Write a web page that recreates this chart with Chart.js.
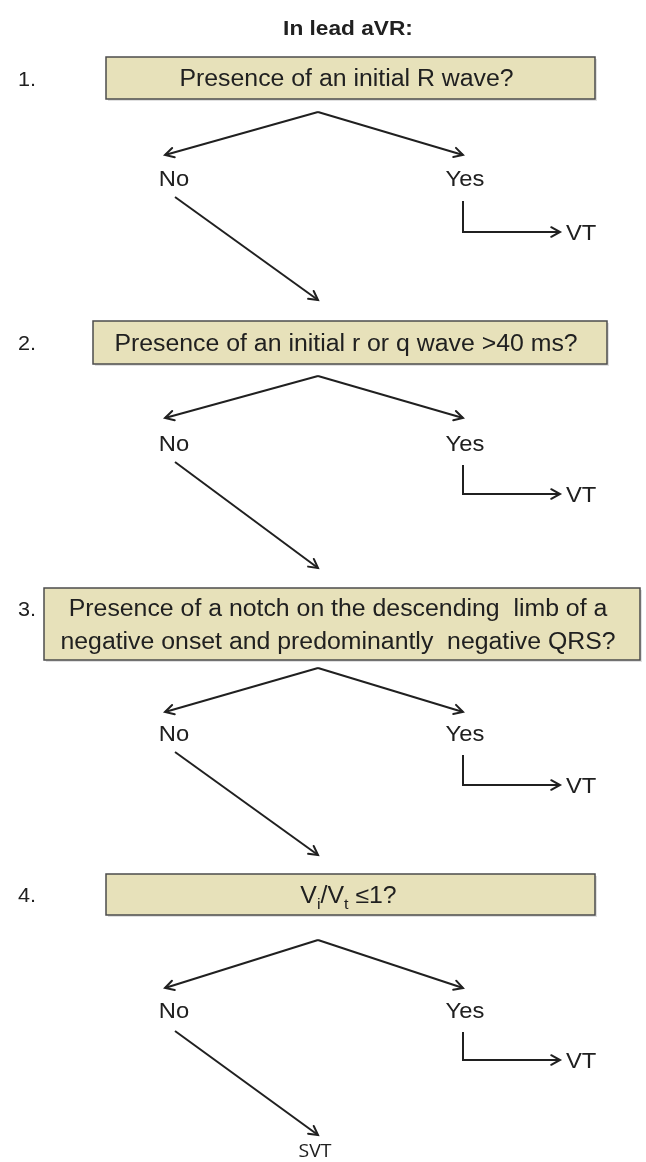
<!DOCTYPE html>
<html>
<head>
<meta charset="utf-8">
<script src="https://cdn.jsdelivr.net/npm/chart.js@4"></script>
<style>
  body { margin: 0; background: #fff; }
  canvas { display: block; }
</style>
</head>
<body>
<canvas id="flow" width="646" height="1162"></canvas>
<script>
// flowchart content
const title = 'In lead aVR:';
const stepLabels = ['1.', '2.', '3.', '4.'];
const questions = [
  ['Presence of an initial R wave?'],
  ['Presence of an initial r or q wave >40 ms?'],
  ['Presence of a notch on the descending  limb of a', 'negative onset and predominantly  negative QRS?'],
  null // step 4 has subscripts, drawn below
];
const noLabel = 'No';
const yesLabel = 'Yes';
const yesOutcome = 'VT';
const finalOutcome = 'SVT';

// node geometry in chart units (x 0..646, y 0..1162)
const boxLeft = [106, 93, 44, 106];
const boxRight = [595, 607, 640, 595];
const boxTop = [57, 321, 588, 874];
const boxBottom = [99, 364, 660, 915];
const apexY = [112, 376, 668, 940];
const branchTipY = [155, 418, 712, 988];
const answerY = [178, 443, 733, 1010];
const diagTopY = [197, 462, 752, 1031];
const diagEndY = [300, 568, 855, 1135];
const elbowTopY = [201, 465, 755, 1032];
const vtY = [232, 494, 785, 1060];
const apexX = 318, noX = 165, yesX = 463, diagStartX = 175, diagEndX = 318, vtArrowX = 560;

const ink = '#202020';
const stretch = 1.08; // the source lettering is a little wide

function line(points) {
  return {
    data: points.map(p => ({ x: p[0], y: p[1] })),
    showLine: true,
    borderColor: ink,
    borderWidth: 2,
    pointRadius: 0,
    fill: false,
    tension: 0
  };
}

const datasets = [];
for (let i = 0; i < 4; i++) {
  datasets.push(line([[apexX, apexY[i]], [noX, branchTipY[i]]]));
  datasets.push(line([[apexX, apexY[i]], [yesX, branchTipY[i]]]));
  datasets.push(line([[diagStartX, diagTopY[i]], [diagEndX, diagEndY[i]]]));
  datasets.push(line([[yesX, elbowTopY[i]], [yesX, vtY[i]], [vtArrowX, vtY[i]]]));
}

const arrowHeads = {
  id: 'arrowHeads',
  afterDatasetsDraw(chart) {
    const ctx = chart.ctx;
    ctx.save();
    ctx.strokeStyle = ink;
    ctx.lineWidth = 2;
    ctx.lineCap = 'round';
    chart.data.datasets.forEach((ds, i) => {
      const pts = chart.getDatasetMeta(i).data;
      const a = pts[pts.length - 2], b = pts[pts.length - 1];
      const ang = Math.atan2(b.y - a.y, b.x - a.x);
      const len = 10, spread = 0.5;
      ctx.beginPath();
      ctx.moveTo(b.x - len * Math.cos(ang - spread), b.y - len * Math.sin(ang - spread));
      ctx.lineTo(b.x, b.y);
      ctx.lineTo(b.x - len * Math.cos(ang + spread), b.y - len * Math.sin(ang + spread));
      ctx.stroke();
    });
    ctx.restore();
  }
};

// draws text widened by `stretch`, anchored like fillText
function wideText(ctx, txt, x, y, align) {
  const w = ctx.measureText(txt).width * stretch;
  let left = x;
  if (align === 'center') left = x - w / 2;
  else if (align === 'right') left = x - w;
  ctx.save();
  ctx.textAlign = 'left';
  ctx.translate(left, y + 2); // 'middle' sits a bit high for this face
  ctx.scale(stretch, 1);
  ctx.fillText(txt, 0, 0);
  ctx.restore();
  return w;
}

const boxesAndText = {
  id: 'boxesAndText',
  beforeDatasetsDraw(chart) {
    const ctx = chart.ctx;
    const xs = chart.scales.x, ys = chart.scales.y;
    ctx.save();
    for (let i = 0; i < 4; i++) {
      const l = xs.getPixelForValue(boxLeft[i]), r = xs.getPixelForValue(boxRight[i]);
      const t = ys.getPixelForValue(boxTop[i]), b = ys.getPixelForValue(boxBottom[i]);
      ctx.fillStyle = 'rgba(0,0,0,0.12)';
      ctx.fillRect(l + 2, t + 2, r - l, b - t);
      ctx.fillStyle = '#e7e1ba';
      ctx.fillRect(l, t, r - l, b - t);
      ctx.strokeStyle = '#4c4c4c';
      ctx.lineWidth = 1.5;
      ctx.strokeRect(l, t, r - l, b - t);
    }
    ctx.restore();
  },
  afterDraw(chart) {
    const ctx = chart.ctx;
    const xs = chart.scales.x, ys = chart.scales.y;
    const sans = '"Liberation Sans", Arial, sans-serif';
    ctx.save();
    ctx.fillStyle = ink;
    ctx.textBaseline = 'middle';

    ctx.font = 'bold 21px ' + sans;
    wideText(ctx, title, xs.getPixelForValue(348), ys.getPixelForValue(27), 'center');

    for (let i = 0; i < 4; i++) {
      const cx = xs.getPixelForValue((boxLeft[i] + boxRight[i]) / 2);
      const cy = ys.getPixelForValue((boxTop[i] + boxBottom[i]) / 2);

      // step number
      ctx.font = '20px ' + sans;
      const numY = questions[i] && questions[i].length > 1 ? cy - 16 : cy;
      wideText(ctx, stepLabels[i], xs.getPixelForValue(18), numY, 'left');

      // question
      ctx.font = '23px ' + sans;
      if (questions[i]) {
        const lines = questions[i];
        const gap = 33;
        lines.forEach((txt, k) => {
          wideText(ctx, txt, cx - 4, cy + (k - (lines.length - 1) / 2) * gap, 'center');
        });
      } else {
        // V_i/V_t ≤1?
        const big = '23px ' + sans, small = '15px ' + sans;
        const parts = [['V', big, 0], ['i', small, 8], ['/V', big, 0], ['t', small, 8], [' \u22641?', big, 0]];
        let w = 0;
        parts.forEach(p => { ctx.font = p[1]; w += ctx.measureText(p[0]).width * stretch; });
        let x = cx - 2 - w / 2;
        parts.forEach(p => {
          ctx.font = p[1];
          x += wideText(ctx, p[0], x, cy + p[2], 'left');
        });
      }

      // answers
      ctx.font = '22px ' + sans;
      wideText(ctx, noLabel, xs.getPixelForValue(174), ys.getPixelForValue(answerY[i]), 'center');
      wideText(ctx, yesLabel, xs.getPixelForValue(465), ys.getPixelForValue(answerY[i]), 'center');
      wideText(ctx, yesOutcome, xs.getPixelForValue(566), ys.getPixelForValue(vtY[i]), 'left');
    }

    ctx.font = '18px "Open Sans", Lato, sans-serif';
    wideText(ctx, finalOutcome, xs.getPixelForValue(315), ys.getPixelForValue(1150), 'center');
    ctx.restore();
  }
};

new Chart(document.getElementById('flow'), {
  type: 'scatter',
  data: { datasets },
  options: {
    responsive: false,
    animation: false,
    events: [],
    layout: { padding: 0 },
    plugins: { legend: { display: false }, tooltip: { enabled: false } },
    scales: {
      x: { type: 'linear', min: 0, max: 646, display: false },
      y: { type: 'linear', min: 0, max: 1162, reverse: true, display: false }
    }
  },
  plugins: [boxesAndText, arrowHeads]
});
</script>
</body>
</html>
